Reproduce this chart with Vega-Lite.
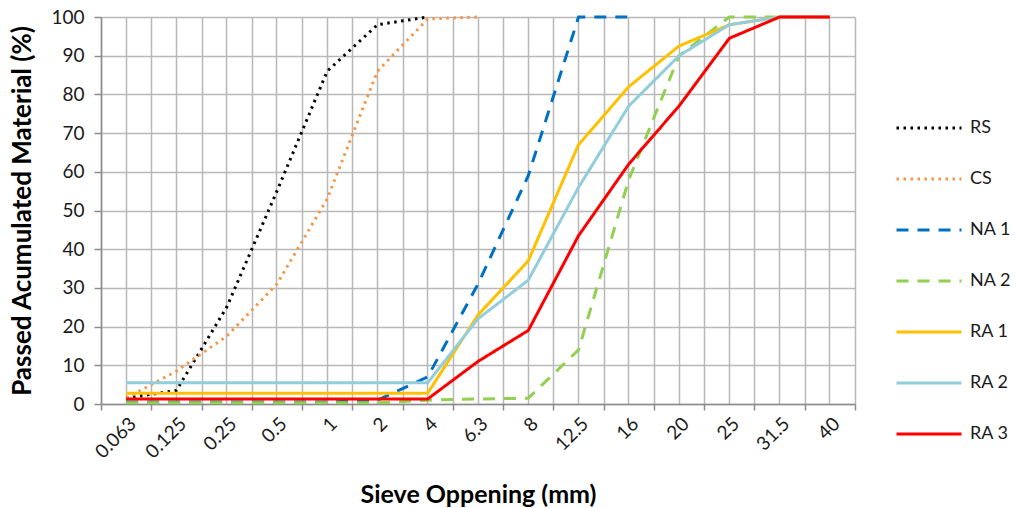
{
  "$schema": "https://vega.github.io/schema/vega-lite/v6.json",
  "width": 754,
  "height": 387,
  "autosize": {"type": "none"},
  "padding": {"left": 101, "top": 17, "right": 161, "bottom": 104},
  "background": "white",
  "config": {
    "view": {"stroke": null},
    "font": "Lato",
    "axis": {
      "gridColor": "#B8B8B8",
      "gridWidth": 1.5,
      "domainColor": "#8C8C8C",
      "domainWidth": 1.5,
      "tickColor": "#8C8C8C",
      "tickWidth": 1.5,
      "labelColor": "#1a1a1a",
      "titleColor": "#000000",
      "labelFont": "Lato",
      "titleFont": "Lato"
    },
    "legend": {
      "labelFont": "Lato",
      "labelColor": "#1a1a1a"
    }
  },
  "data": {
    "values": [
      {"series": "RS", "sieve": "0.063", "passed": 1.5},
      {"series": "RS", "sieve": "0.125", "passed": 3.5},
      {"series": "RS", "sieve": "0.25", "passed": 25},
      {"series": "RS", "sieve": "0.5", "passed": 55},
      {"series": "RS", "sieve": "1", "passed": 86},
      {"series": "RS", "sieve": "2", "passed": 98},
      {"series": "RS", "sieve": "4", "passed": 100},
      {"series": "CS", "sieve": "0.063", "passed": 1.5},
      {"series": "CS", "sieve": "0.125", "passed": 8.5},
      {"series": "CS", "sieve": "0.25", "passed": 17.5},
      {"series": "CS", "sieve": "0.5", "passed": 31},
      {"series": "CS", "sieve": "1", "passed": 53},
      {"series": "CS", "sieve": "2", "passed": 86},
      {"series": "CS", "sieve": "4", "passed": 99.5},
      {"series": "CS", "sieve": "6.3", "passed": 100},
      {"series": "NA 1", "sieve": "0.063", "passed": 0.5},
      {"series": "NA 1", "sieve": "0.125", "passed": 0.5},
      {"series": "NA 1", "sieve": "0.25", "passed": 0.5},
      {"series": "NA 1", "sieve": "0.5", "passed": 0.5},
      {"series": "NA 1", "sieve": "1", "passed": 0.5},
      {"series": "NA 1", "sieve": "2", "passed": 1},
      {"series": "NA 1", "sieve": "4", "passed": 7},
      {"series": "NA 1", "sieve": "6.3", "passed": 31},
      {"series": "NA 1", "sieve": "8", "passed": 59},
      {"series": "NA 1", "sieve": "12.5", "passed": 100},
      {"series": "NA 1", "sieve": "16", "passed": 100},
      {"series": "NA 2", "sieve": "0.063", "passed": 0.3},
      {"series": "NA 2", "sieve": "0.125", "passed": 0.3},
      {"series": "NA 2", "sieve": "0.25", "passed": 0.3},
      {"series": "NA 2", "sieve": "0.5", "passed": 0.3},
      {"series": "NA 2", "sieve": "1", "passed": 0.3},
      {"series": "NA 2", "sieve": "2", "passed": 0.3},
      {"series": "NA 2", "sieve": "4", "passed": 1},
      {"series": "NA 2", "sieve": "6.3", "passed": 1.3},
      {"series": "NA 2", "sieve": "8", "passed": 1.5},
      {"series": "NA 2", "sieve": "12.5", "passed": 14},
      {"series": "NA 2", "sieve": "16", "passed": 58},
      {"series": "NA 2", "sieve": "20", "passed": 90},
      {"series": "NA 2", "sieve": "25", "passed": 100},
      {"series": "NA 2", "sieve": "31.5", "passed": 100},
      {"series": "RA 1", "sieve": "0.063", "passed": 2.8},
      {"series": "RA 1", "sieve": "0.125", "passed": 2.8},
      {"series": "RA 1", "sieve": "0.25", "passed": 2.8},
      {"series": "RA 1", "sieve": "0.5", "passed": 2.8},
      {"series": "RA 1", "sieve": "1", "passed": 2.8},
      {"series": "RA 1", "sieve": "2", "passed": 2.8},
      {"series": "RA 1", "sieve": "4", "passed": 2.8},
      {"series": "RA 1", "sieve": "6.3", "passed": 23},
      {"series": "RA 1", "sieve": "8", "passed": 37},
      {"series": "RA 1", "sieve": "12.5", "passed": 67},
      {"series": "RA 1", "sieve": "16", "passed": 82},
      {"series": "RA 1", "sieve": "20", "passed": 92.5},
      {"series": "RA 1", "sieve": "25", "passed": 98},
      {"series": "RA 1", "sieve": "31.5", "passed": 100},
      {"series": "RA 1", "sieve": "40", "passed": 100},
      {"series": "RA 2", "sieve": "0.063", "passed": 5.5},
      {"series": "RA 2", "sieve": "0.125", "passed": 5.5},
      {"series": "RA 2", "sieve": "0.25", "passed": 5.5},
      {"series": "RA 2", "sieve": "0.5", "passed": 5.5},
      {"series": "RA 2", "sieve": "1", "passed": 5.5},
      {"series": "RA 2", "sieve": "2", "passed": 5.5},
      {"series": "RA 2", "sieve": "4", "passed": 5.5},
      {"series": "RA 2", "sieve": "6.3", "passed": 22},
      {"series": "RA 2", "sieve": "8", "passed": 32},
      {"series": "RA 2", "sieve": "12.5", "passed": 56},
      {"series": "RA 2", "sieve": "16", "passed": 77},
      {"series": "RA 2", "sieve": "20", "passed": 90},
      {"series": "RA 2", "sieve": "25", "passed": 98},
      {"series": "RA 2", "sieve": "31.5", "passed": 100},
      {"series": "RA 2", "sieve": "40", "passed": 100},
      {"series": "RA 3", "sieve": "0.063", "passed": 1.3},
      {"series": "RA 3", "sieve": "0.125", "passed": 1.3},
      {"series": "RA 3", "sieve": "0.25", "passed": 1.3},
      {"series": "RA 3", "sieve": "0.5", "passed": 1.3},
      {"series": "RA 3", "sieve": "1", "passed": 1.3},
      {"series": "RA 3", "sieve": "2", "passed": 1.3},
      {"series": "RA 3", "sieve": "4", "passed": 1.3},
      {"series": "RA 3", "sieve": "6.3", "passed": 11},
      {"series": "RA 3", "sieve": "8", "passed": 19},
      {"series": "RA 3", "sieve": "12.5", "passed": 43.5},
      {"series": "RA 3", "sieve": "16", "passed": 62},
      {"series": "RA 3", "sieve": "20", "passed": 77},
      {"series": "RA 3", "sieve": "25", "passed": 94.5},
      {"series": "RA 3", "sieve": "31.5", "passed": 100},
      {"series": "RA 3", "sieve": "40", "passed": 100}
    ]
  },
  "encoding": {
    "y": {
      "field": "passed",
      "type": "quantitative",
      "scale": {"domain": [0, 100], "nice": false, "zero": true},
      "axis": {
        "values": [0, 10, 20, 30, 40, 50, 60, 70, 80, 90, 100],
        "title": "Passed Acumulated Material (%)",
        "titleFontSize": 26,
        "titleFontWeight": "bold",
        "titleX": -79,
        "titleBaseline": "middle",
        "labelFontSize": 19,
        "labelPadding": 10,
        "tickSize": 7,
        "grid": true
      }
    }
  },
  "layer": [
    {
      "mark": {"type": "point", "opacity": 0},
      "encoding": {
        "x": {
          "field": "sieve",
          "type": "ordinal",
          "sort": ["0.063", "0.125", "0.25", "0.5", "1", "2", "4", "6.3", "8", "12.5", "16", "20", "25", "31.5", "40"],
          "scale": {"type": "band", "paddingInner": 0, "paddingOuter": 0},
          "axis": {
            "orient": "bottom",
            "tickBand": "center",
            "grid": true,
            "labels": false,
            "ticks": false,
            "domain": false,
            "title": null
          }
        }
      }
    },
    {
      "mark": {"type": "line", "strokeWidth": 3},
      "encoding": {
        "x": {
          "field": "sieve",
          "type": "ordinal",
          "sort": ["0.063", "0.125", "0.25", "0.5", "1", "2", "4", "6.3", "8", "12.5", "16", "20", "25", "31.5", "40"],
          "scale": {"type": "band", "paddingInner": 0, "paddingOuter": 0},
          "axis": {
            "orient": "bottom",
            "tickBand": "extent",
            "grid": true,
            "labelAngle": -45,
            "labelFontSize": 19,
            "labelPadding": 4,
            "tickSize": 6,
            "title": "Sieve Oppening (mm)",
            "titleFontSize": 25,
            "titleFontWeight": "bold",
            "titleBaseline": "alphabetic",
            "titleY": 98
          }
        },
        "color": {
          "field": "series",
          "type": "nominal",
          "scale": {
            "domain": ["RS", "CS", "NA 1", "NA 2", "RA 1", "RA 2", "RA 3"],
            "range": ["#000000", "#F79646", "#0070C0", "#92D050", "#FFC000", "#92CDDC", "#FF0000"]
          },
          "legend": {
            "title": null,
            "orient": "none",
            "legendX": 794,
            "legendY": 77,
            "symbolType": "stroke",
            "symbolSize": 4225,
            "symbolStrokeWidth": 3,
            "labelFontSize": 18,
            "labelOffset": 7,
            "rowPadding": 8
          }
        },
        "strokeDash": {
          "field": "series",
          "type": "nominal",
          "scale": {
            "domain": ["RS", "CS", "NA 1", "NA 2", "RA 1", "RA 2", "RA 3"],
            "range": [[2.5, 4.5], [2.5, 4.5], [12, 9], [12, 9], [1, 0], [1, 0], [1, 0]]
          },
          "legend": {
            "title": null,
            "orient": "none",
            "legendX": 794,
            "legendY": 77,
            "symbolType": "stroke",
            "symbolSize": 4225,
            "symbolStrokeWidth": 3,
            "labelFontSize": 18,
            "labelOffset": 7,
            "rowPadding": 8
          }
        },
        "order": {"value": null}
      }
    }
  ],
  "resolve": {"axis": {"x": "independent"}}
}
